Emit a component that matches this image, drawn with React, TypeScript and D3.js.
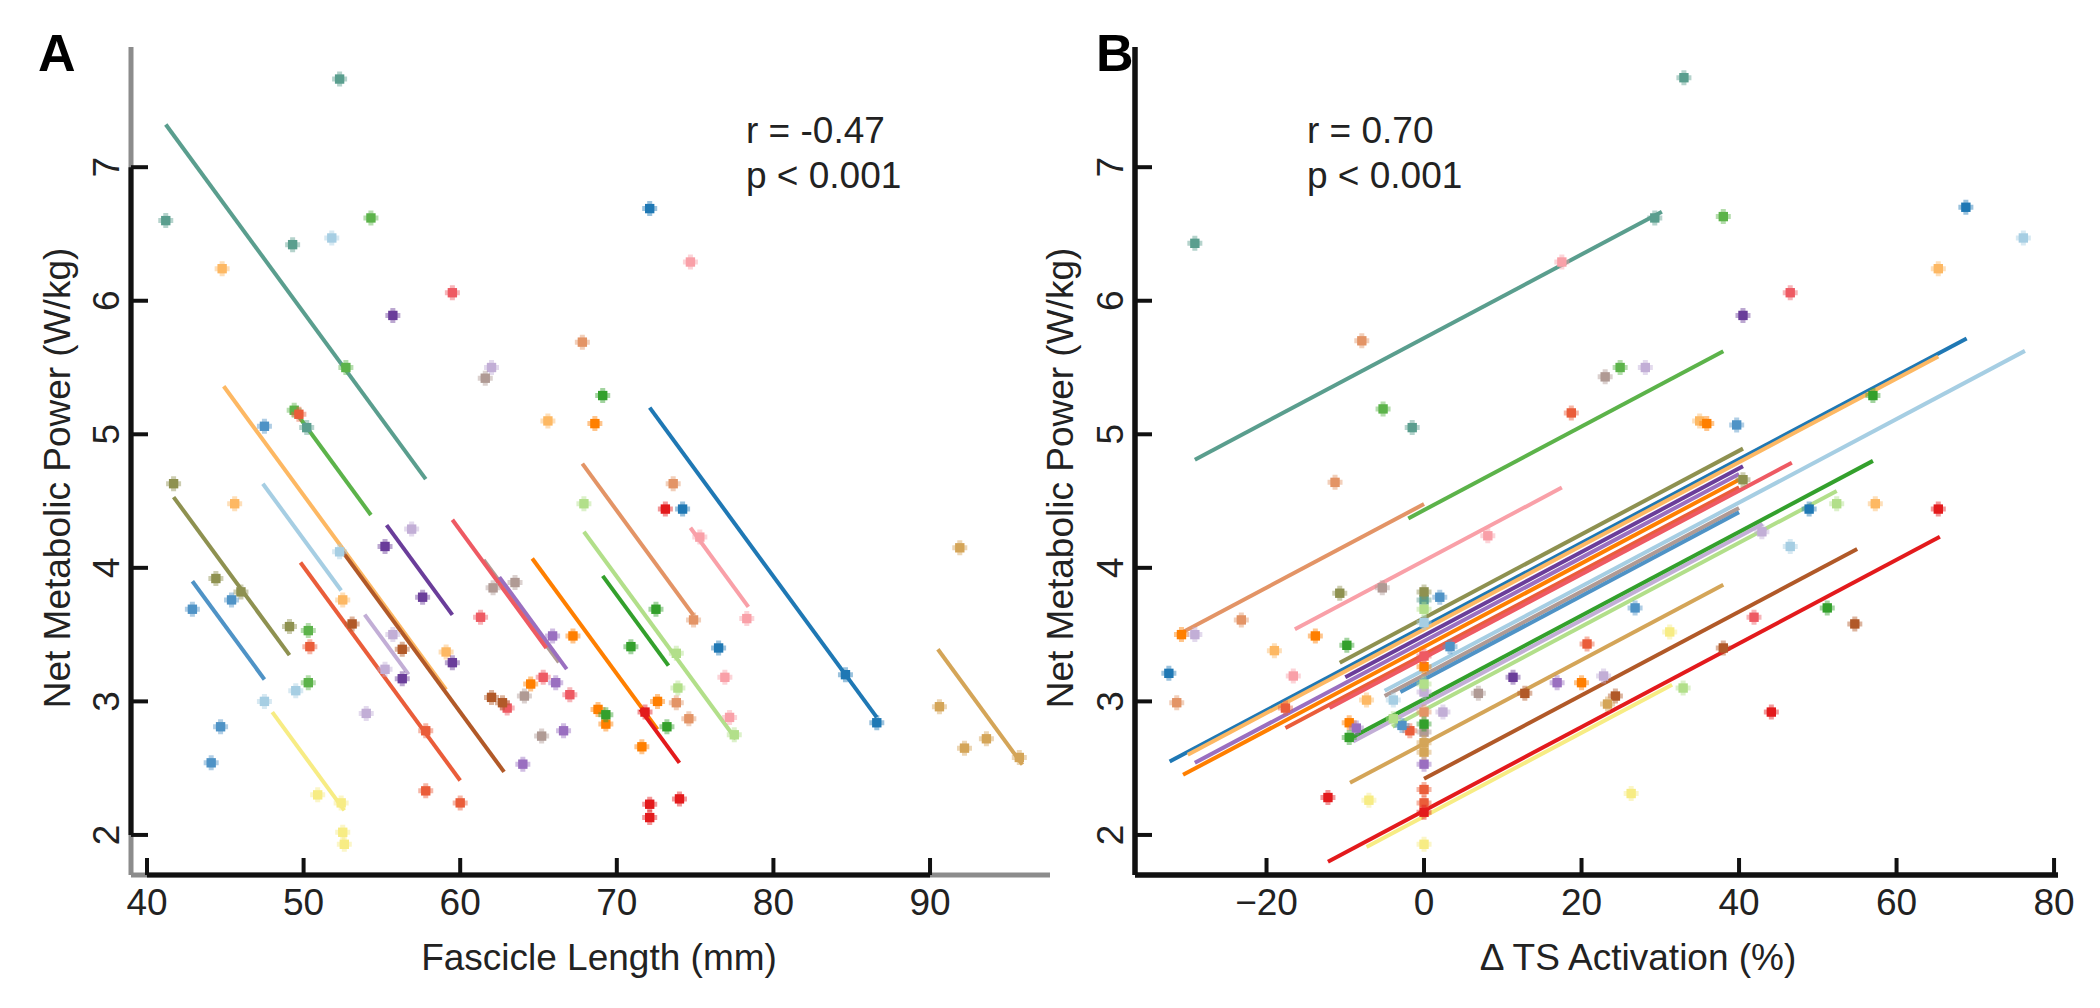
import * as d3 from "d3";

// subjects and their colours
const subjects = ["S1", "S2", "S3", "S4", "S5", "S6", "S7", "S8", "S9", "S10", "S11",
  "S12", "S13", "S14", "S15", "S16", "S17", "S18", "S19", "S20", "S21", "S22"];
const subjectColors = ["#5a9e8e", "#1f78b4", "#5cb34a", "#a6cee3", "#fdb863", "#ff7f00",
  "#ea5d3a", "#6a3d9a", "#c2aed6", "#b09a94", "#9a6fc0", "#e31a1c", "#ee5a63", "#8e9150",
  "#4f93c6", "#b15928", "#f7ec84", "#e39466", "#b2df8a", "#33a02c", "#f9a0a8", "#d4a558"];

// panel A: fascicle length (mm) vs net metabolic power (W/kg)
const pointsA: number[][][] = [
  [[52.3, 7.66], [41.2, 6.6], [49.3, 6.42], [50.2, 5.05]],
  [[72.1, 6.69], [74.2, 4.44], [76.5, 3.4], [84.6, 3.2], [86.6, 2.84]],
  [[54.3, 6.62], [52.7, 5.5], [49.4, 5.18], [50.3, 3.53], [50.3, 3.14]],
  [[51.8, 6.47], [52.3, 4.12], [49.5, 3.08], [47.5, 3.0]],
  [[44.8, 6.24], [45.6, 4.48], [52.5, 3.76], [59.1, 3.37], [65.6, 5.1]],
  [[68.6, 5.08], [67.2, 3.49], [64.5, 3.13], [68.8, 2.94], [69.3, 2.83], [72.6, 3.0], [71.6, 2.66]],
  [[49.7, 5.15], [50.4, 3.41], [57.8, 2.78], [57.8, 2.33], [60.0, 2.24]],
  [[55.7, 5.89], [55.2, 4.16], [57.6, 3.78], [59.5, 3.29], [56.3, 3.17]],
  [[62.0, 5.5], [56.9, 4.29], [55.7, 3.5], [55.2, 3.24], [54.0, 2.91]],
  [[61.6, 5.42], [63.5, 3.89], [62.1, 3.85], [64.1, 3.04], [65.2, 2.74]],
  [[65.9, 3.49], [66.1, 3.14], [66.6, 2.78], [64.0, 2.53]],
  [[73.1, 4.44], [71.8, 2.92], [74.0, 2.27], [72.1, 2.23], [72.1, 2.13]],
  [[59.5, 6.06], [61.3, 3.63], [65.3, 3.18], [67.0, 3.05], [63.0, 2.95]],
  [[41.7, 4.63], [44.4, 3.92], [46.0, 3.82], [49.1, 3.56]],
  [[47.5, 5.06], [45.4, 3.76], [42.9, 3.69], [44.7, 2.81], [44.1, 2.54]],
  [[53.1, 3.58], [56.3, 3.39], [62.0, 3.03], [62.7, 2.99]],
  [[50.9, 2.3], [52.4, 2.24], [52.5, 2.02], [52.6, 1.93]],
  [[67.8, 5.69], [73.6, 4.63], [74.9, 3.61], [73.8, 2.99], [74.6, 2.87]],
  [[67.9, 4.48], [73.8, 3.36], [73.9, 3.1], [77.5, 2.75]],
  [[69.1, 5.29], [72.5, 3.69], [70.9, 3.41], [69.3, 2.9], [73.2, 2.81]],
  [[74.7, 6.29], [75.3, 4.23], [78.3, 3.62], [76.9, 3.18], [77.2, 2.88]],
  [[91.9, 4.15], [90.6, 2.96], [93.6, 2.72], [92.2, 2.65], [95.7, 2.58]],
];
// fitted lines: [x start, x end, power at x start], common slope
const slopeA = -0.16;
const fitsA = [
  [41.2, 57.8, 7.32], [72.1, 86.6, 5.2], [49.4, 54.3, 5.18], [47.4, 52.4, 4.63],
  [44.9, 59.1, 5.36], [64.6, 72.6, 4.07], [49.8, 60.0, 4.04], [55.3, 59.5, 4.32],
  [53.9, 56.7, 3.65], [61.5, 66.3, 4.06], [62.5, 66.8, 3.93], [71.5, 74.0, 2.94],
  [59.5, 65.5, 4.36], [41.7, 49.1, 4.53], [42.9, 47.5, 3.9], [52.5, 62.8, 4.12],
  [48.0, 52.6, 2.92], [67.8, 74.9, 4.78], [67.9, 77.6, 4.27], [69.1, 73.3, 3.94],
  [74.7, 78.4, 4.3], [90.5, 95.9, 3.39],
];

// panel B: change in TS activation (%) vs net metabolic power (W/kg)
const pointsB: number[][][] = [
  [[33.0, 7.67], [-29.1, 6.43], [29.3, 6.62], [-1.5, 5.05], [0, 3.76]],
  [[68.8, 6.7], [48.9, 4.44], [-32.4, 3.21]],
  [[38.0, 6.63], [24.9, 5.5], [-5.2, 5.19]],
  [[76.1, 6.47], [46.5, 4.16], [-3.9, 3.01], [0, 3.59]],
  [[65.3, 6.24], [35.0, 5.1], [57.3, 4.48], [-19.0, 3.38], [-7.3, 3.01]],
  [[35.9, 5.08], [-30.8, 3.5], [-13.8, 3.49], [-9.5, 2.84], [20.0, 3.14], [0, 3.26]],
  [[18.7, 5.16], [20.7, 3.43], [-17.6, 2.95], [-1.8, 2.78], [0, 2.34], [0, 2.24]],
  [[40.5, 5.89], [11.3, 3.18]],
  [[28.1, 5.5], [42.9, 4.27], [-29.1, 3.5], [22.8, 3.19], [2.4, 2.92], [0, 3.07]],
  [[23.0, 5.43], [-5.3, 3.85], [6.9, 3.06], [0, 2.77]],
  [[16.9, 3.14], [-8.6, 2.8], [0, 2.53]],
  [[65.3, 4.44], [44.1, 2.92], [-12.2, 2.28], [0, 2.17]],
  [[46.5, 6.06], [41.9, 3.63], [0, 3.34]],
  [[40.5, 4.66], [-10.7, 3.81], [0, 3.82]],
  [[39.7, 5.07], [2.0, 3.78], [26.8, 3.7], [3.3, 3.41], [-2.8, 2.82]],
  [[54.7, 3.58], [38.0, 3.4], [24.3, 3.04], [12.8, 3.06]],
  [[31.2, 3.52], [26.3, 2.31], [-7.0, 2.26], [0, 1.93]],
  [[-7.9, 5.7], [-11.3, 4.64], [-23.2, 3.61], [-31.4, 2.99], [0, 2.92]],
  [[52.4, 4.48], [32.9, 3.1], [-3.9, 2.87], [0, 3.69], [0, 3.13]],
  [[57.0, 5.29], [51.2, 3.7], [-9.8, 3.42], [-9.5, 2.73], [0, 2.83]],
  [[17.5, 6.29], [8.1, 4.24], [-16.6, 3.19]],
  [[23.3, 2.98], [0, 2.69], [0, 2.62]],
];
const slopeB = 0.0313;
const fitsB = [
  [-29.1, 30.2, 4.81], [-32.3, 68.9, 2.55], [-2.0, 38.0, 4.37], [-5.0, 76.3, 3.08],
  [-30.0, 65.3, 2.6], [-30.6, 40.0, 2.45], [-17.6, 40.0, 2.8], [-10.0, 40.5, 3.18],
  [-9.0, 43.0, 2.7], [-5.0, 40.0, 3.04], [-29.1, 40.0, 2.54], [-12.2, 65.5, 1.8],
  [-12.0, 46.7, 2.95], [-10.7, 40.5, 3.29], [-3.0, 40.0, 3.07], [0.0, 55.0, 2.42],
  [-7.3, 31.5, 1.91], [-30.6, 0.0, 3.52], [-4.0, 52.4, 2.81], [-9.8, 57.0, 2.71],
  [-16.4, 17.5, 3.54], [-9.4, 38.0, 2.39],
];

const yTicks = [2, 3, 4, 5, 6, 7];
const xTicksA = [40, 50, 60, 70, 80, 90];
const xTicksB = [-20, 0, 20, 40, 60, 80];
const xTickLabelsB = ["\u221220", "0", "20", "40", "60", "80"];

const FONT = "'Liberation Sans', Arial, Helvetica, sans-serif";
const FS = 37;

const y = d3.scaleLinear().domain([1.7, 7.9]).range([875, 47]);
const xA = d3.scaleLinear().domain([38.98, 97.66]).range([131, 1050]);
const xB = d3.scaleLinear().domain([-36.7, 80.5]).range([1135, 2058]);

const square = d3.symbol(d3.symbolSquare, 88)()!;
const cross = d3.symbol(d3.symbolCross, 125)()!;

function Panel(props: {
  x: d3.ScaleLinear<number, number>;
  xTicks: number[];
  xTickLabels: string[];
  fits: number[][];
  points: number[][][];
  slope: number;
  letter: string;
  letterX: number;
  yTitleX: number;
  xTitle: string;
  xTitleX: number;
  statX: number;
  stats: string[];
  greyEnds: boolean;
}) {
  const { x, xTicks, xTickLabels, fits, points, slope } = props;
  const [x0, x1] = x.range();
  const [yb, yt] = y.range();
  const line = d3.line<number[]>().x((d) => x(d[0])).y((d) => y(d[1]));
  return (
    <g>
      {/* fitted lines */}
      {fits.map((f, i) => (
        <path
          key={"l" + i}
          d={line([[f[0], f[2]], [f[1], f[2] + slope * (f[1] - f[0])]]) || ""}
          stroke={subjectColors[i]}
          strokeWidth={4}
          fill="none"
        />
      ))}
      {/* points */}
      {points.map((pts, i) =>
        pts.map((p, j) => (
          <g key={`p${i}-${j}`} transform={`translate(${x(p[0])},${y(p[1])})`} fill={subjectColors[i]}>
            <path d={cross} opacity={0.45} />
            <path d={square} />
          </g>
        ))
      )}
      {/* axes */}
      <line x1={x0} x2={x0} y1={yt} y2={yb} stroke={props.greyEnds ? "#8c8c8c" : "#111"} strokeWidth={5} />
      <line x1={x0} x2={x0} y1={props.greyEnds ? y(7) : yt} y2={props.greyEnds ? y(2) : yb} stroke="#111" strokeWidth={5} />
      <line x1={x0} x2={x1} y1={yb} y2={yb} stroke={props.greyEnds ? "#8c8c8c" : "#111"} strokeWidth={5} />
      <line x1={props.greyEnds ? x(40) : x0} x2={props.greyEnds ? x(90) : x1} y1={yb} y2={yb} stroke="#111" strokeWidth={5} />
      {yTicks.map((t) => (
        <g key={"yt" + t}>
          <line x1={x0} x2={x0 + 17} y1={y(t)} y2={y(t)} stroke="#111" strokeWidth={4} />
          <text
            transform={`translate(${x0 - 12},${y(t)}) rotate(-90)`}
            textAnchor="middle"
            fontFamily={FONT}
            fontSize={FS}
            fill="#222"
          >
            {t}
          </text>
        </g>
      ))}
      {xTicks.map((t, i) => (
        <g key={"xt" + t}>
          <line x1={x(t)} x2={x(t)} y1={yb} y2={yb - 17} stroke="#111" strokeWidth={4} />
          <text x={x(t)} y={915} textAnchor="middle" fontFamily={FONT} fontSize={FS} fill="#222">
            {xTickLabels[i]}
          </text>
        </g>
      ))}
      {/* titles */}
      <text
        transform={`translate(${props.yTitleX},478) rotate(-90)`}
        textAnchor="middle"
        fontFamily={FONT}
        fontSize={FS}
        fill="#222"
      >
        Net Metabolic Power (W/kg)
      </text>
      <text x={props.xTitleX} y={970} textAnchor="middle" fontFamily={FONT} fontSize={FS} fill="#222">
        {props.xTitle}
      </text>
      <text x={props.letterX} y={71} fontFamily={FONT} fontSize={52} fontWeight="bold" fill="#000">
        {props.letter}
      </text>
      {props.stats.map((s, i) => (
        <text key={"s" + i} x={props.statX} y={143 + i * 45} fontFamily={FONT} fontSize={FS} fill="#222">
          {s}
        </text>
      ))}
    </g>
  );
}

export default function App() {
  return (
    <svg
      width={2100}
      height={1008}
      style={{ position: "absolute", left: 0, top: 0, background: "#fff" }}
    >
      <rect width={2100} height={1008} fill="#fff" />
      <Panel
        x={xA}
        xTicks={xTicksA}
        xTickLabels={xTicksA.map(String)}
        fits={fitsA}
        points={pointsA}
        slope={slopeA}
        letter="A"
        letterX={38}
        yTitleX={70}
        xTitle="Fascicle Length (mm)"
        xTitleX={599}
        statX={746}
        stats={["r = -0.47", "p < 0.001"]}
        greyEnds={true}
      />
      <Panel
        x={xB}
        xTicks={xTicksB}
        xTickLabels={xTickLabelsB}
        fits={fitsB}
        points={pointsB}
        slope={slopeB}
        letter="B"
        letterX={1096}
        yTitleX={1073}
        xTitle={"\u0394 TS Activation (%)"}
        xTitleX={1638}
        statX={1307}
        stats={["r = 0.70", "p < 0.001"]}
        greyEnds={false}
      />
    </svg>
  );
}
